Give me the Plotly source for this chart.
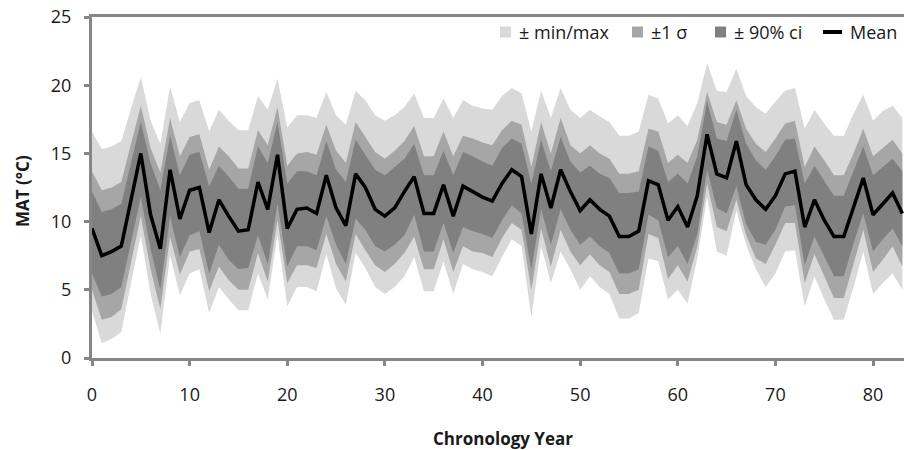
import plotly.graph_objects as go

years = list(range(84))

mean = [9.5, 7.5, 7.8, 8.2, 11.6, 15.0, 10.5, 8.0, 13.8, 10.2, 12.3,
        12.5, 9.2, 11.6, 10.4, 9.3, 9.4, 12.9, 10.9, 14.9, 9.5,
        10.9, 11.0, 10.6, 13.4, 11.0, 9.7, 13.5, 12.5, 10.9, 10.4,
        11.0, 12.2, 13.3, 10.6, 10.6, 12.7, 10.4, 12.6, 12.2, 11.8,
        11.5, 12.8, 13.8, 13.3, 9.1, 13.5, 11.0, 13.8, 12.2, 10.8,
        11.6, 10.9, 10.4, 8.9, 8.9, 9.3, 13.0, 12.7, 10.1, 11.1,
        9.6, 11.9, 16.4, 13.5, 13.2, 15.9, 12.7, 11.6, 10.9, 11.9,
        13.5, 13.7, 9.6, 11.6, 10.1, 8.9, 8.9, 11.1, 13.2, 10.5,
        11.3, 12.1, 10.6]

max_v = [16.6, 15.3, 15.5, 15.9, 18.3, 20.6, 17.4, 15.7, 19.9, 17.3, 18.7,
         18.9, 16.6, 18.2, 17.4, 16.7, 16.7, 19.2, 18.2, 20.5, 16.9,
         17.8, 17.8, 17.6, 19.5, 17.8, 17.1, 19.6, 18.9, 17.8, 17.4,
         17.8, 18.4, 19.4, 17.6, 17.6, 19.0, 17.6, 18.9, 18.5, 18.3,
         18.2, 19.2, 19.8, 19.4, 16.6, 19.6, 17.6, 19.8, 18.2, 17.6,
         18.2, 17.7, 17.3, 16.3, 16.3, 16.6, 19.3, 19.0, 17.2, 17.8,
         17.0, 18.7, 21.6, 19.6, 19.5, 21.2, 19.2, 18.4, 17.9, 18.8,
         19.6, 19.8, 16.8, 18.2, 17.2, 16.3, 16.3, 17.9, 19.3, 17.4,
         18.1, 18.5, 17.6]

sd_hi = [13.7, 12.3, 12.5, 12.9, 15.7, 18.5, 15.4, 13.6, 17.6, 14.8, 16.2,
         16.4, 13.8, 15.5, 14.8, 13.9, 13.9, 16.7, 15.6, 18.4, 14.1,
         15.0, 15.1, 14.9, 17.1, 15.2, 14.3, 17.3, 16.2, 15.1, 14.6,
         15.2, 15.9, 17.0, 14.8, 14.8, 16.6, 14.8, 16.3, 16.1, 15.8,
         15.6, 16.7, 17.4, 17.1, 14.0, 17.3, 15.0, 17.6, 15.6, 15.0,
         15.6, 15.0, 14.6, 13.5, 13.5, 13.7, 16.8, 16.6, 14.3, 14.9,
         14.3, 16.0, 19.5, 17.3, 17.1, 18.9, 16.8, 15.7, 15.1, 16.1,
         17.2, 17.4, 14.0, 15.5, 14.5, 13.4, 13.4, 15.0, 16.8, 14.8,
         15.4, 16.0, 15.0]

ci_hi = [12.2, 10.7, 10.9, 11.3, 14.3, 17.3, 14.3, 12.3, 16.3, 13.4, 14.9,
         15.1, 12.6, 14.1, 13.3, 12.4, 12.4, 15.5, 14.3, 17.3, 12.8,
         13.7, 13.7, 13.4, 15.9, 13.8, 12.9, 16.0, 14.9, 13.8, 13.4,
         14.0, 14.6, 15.7, 13.4, 13.4, 15.2, 13.4, 15.1, 14.8, 14.4,
         14.1, 15.4, 16.1, 15.7, 12.8, 16.0, 13.7, 16.2, 14.4, 13.6,
         14.1, 13.5, 13.2, 12.1, 12.1, 12.2, 15.5, 15.2, 12.9, 13.5,
         12.8, 14.8, 18.8, 16.1, 15.9, 18.2, 15.7, 14.5, 13.8, 14.8,
         16.0, 16.1, 12.8, 14.1, 13.0, 11.9, 11.9, 13.7, 15.5, 13.4,
         14.0, 14.6, 13.7]

ci_lo = [6.2, 4.5, 4.7, 5.2, 8.5, 11.8, 8.0, 5.0, 10.4, 7.4, 9.0,
         9.3, 6.2, 8.3, 7.2, 6.5, 6.6, 9.0, 6.9, 11.3, 6.7,
         8.2, 8.2, 7.9, 10.4, 8.3, 6.9, 10.2, 9.4, 8.2, 7.8,
         8.3, 9.0, 10.5, 7.8, 7.8, 9.9, 7.7, 9.6, 9.3, 9.1,
         8.8, 10.1, 11.2, 10.6, 6.5, 10.9, 8.3, 10.9, 9.4, 8.3,
         8.9, 8.2, 7.7, 6.2, 6.2, 6.5, 10.5, 10.1, 7.4, 8.2,
         6.9, 9.1, 13.8, 11.0, 10.6, 12.6, 9.8, 8.5, 8.3, 9.4,
         11.1, 11.2, 6.8, 8.9, 7.4, 6.0, 6.0, 8.4, 10.6, 7.8,
         8.7, 9.5, 8.2]

sd_lo = [5.0, 2.8, 3.0, 3.6, 7.0, 10.4, 6.5, 3.6, 8.9, 6.1, 7.8,
         8.0, 4.9, 6.7, 5.7, 5.0, 5.0, 7.7, 5.6, 10.1, 5.5,
         6.8, 6.8, 6.6, 9.1, 6.9, 5.6, 9.1, 7.9, 6.8, 6.3,
         6.9, 7.7, 8.9, 6.5, 6.5, 8.7, 6.3, 8.2, 7.8, 7.7,
         7.4, 8.8, 9.9, 9.4, 5.0, 9.5, 6.7, 9.4, 7.8, 6.8,
         7.6, 6.8, 6.3, 4.7, 4.7, 5.0, 9.1, 8.8, 5.8, 6.8,
         5.6, 8.2, 12.8, 9.6, 9.3, 11.6, 9.0, 7.3, 6.9, 8.3,
         9.9, 9.9, 5.5, 7.6, 6.0, 4.4, 4.4, 6.9, 9.4, 6.3,
         7.2, 8.2, 6.7]

min_v = [3.4, 1.1, 1.4, 1.9, 5.5, 9.0, 4.7, 1.8, 7.5, 4.6, 6.2,
         6.5, 3.3, 5.2, 4.3, 3.5, 3.5, 6.2, 4.3, 9.0, 3.8,
         5.2, 5.2, 4.9, 7.6, 5.1, 3.9, 7.7, 6.6, 5.2, 4.7,
         5.2, 6.0, 7.4, 4.9, 4.9, 7.1, 4.7, 6.9, 6.5, 6.3,
         6.0, 7.4, 8.7, 8.2, 3.0, 8.2, 5.5, 7.8, 6.5, 5.0,
         6.0, 5.2, 4.7, 2.9, 2.9, 3.3, 7.3, 7.1, 4.3, 5.0,
         4.0, 7.3, 11.8, 7.8, 7.5, 10.8, 8.3, 6.5, 5.2, 6.2,
         7.8, 7.9, 3.8, 6.0, 4.3, 2.8, 2.8, 5.2, 7.8, 4.7,
         5.5, 6.2, 5.0]

legend_labels = ["± min/max", "±1 σ", "± 90% ci", "Mean"]
x_ticks = [0, 10, 20, 30, 40, 50, 60, 70, 80]
y_ticks = [0, 5, 10, 15, 20, 25]

C_LIGHT = "#d9d9d9"
C_MED = "#a6a6a6"
C_DARK = "#808080"
AXIS = "#868686"
TXT = "#1a1a1a"
FONT = "Open Sans"

fig = go.Figure()

def band(lo, hi, color):
    fig.add_trace(go.Scatter(x=years, y=lo, mode="lines", line=dict(width=0, color=color),
                             hoverinfo="skip", showlegend=False))
    fig.add_trace(go.Scatter(x=years, y=hi, mode="lines", line=dict(width=0, color=color),
                             fill="tonexty", fillcolor=color, hoverinfo="skip", showlegend=False))

band(min_v, max_v, C_LIGHT)
band(sd_lo, sd_hi, C_MED)
band(ci_lo, ci_hi, C_DARK)
fig.add_trace(go.Scatter(x=years, y=mean, mode="lines", line=dict(color="black", width=3.5),
                         showlegend=False))

W, H = 904, 450
L, R, T, B = 92, 0, 17, 92
PW, PH = W - L - R, H - T - B

def px2paper(px, py):
    return (px - L) / PW, (H - B - py) / PH

# manual legend
sq = [(500, C_LIGHT), (632, C_MED), (715, C_DARK)]
text_x = [517, 649, 732, 848]
ly = 32
for (sx, col) in sq:
    x0, y0 = px2paper(sx, ly + 5.5)
    x1, y1 = px2paper(sx + 11, ly - 5.5)
    fig.add_shape(type="rect", xref="paper", yref="paper", x0=x0, y0=y0, x1=x1, y1=y1,
                  fillcolor=col, line=dict(width=0))
lx0, lyy = px2paper(823, ly)
lx1, _ = px2paper(842, ly)
fig.add_shape(type="line", xref="paper", yref="paper", x0=lx0, x1=lx1, y0=lyy, y1=lyy,
              line=dict(color="black", width=4))
for tx, lab in zip(text_x, legend_labels):
    ax, ay = px2paper(tx, ly)
    fig.add_annotation(x=ax, y=ay, xref="paper", yref="paper", text=lab, showarrow=False,
                       xanchor="left", yanchor="middle",
                       font=dict(family=FONT, size=18, color=TXT))

# axis titles
tx, ty = px2paper(503, 438)
fig.add_annotation(x=tx, y=ty, xref="paper", yref="paper", text="<b>Chronology Year</b>",
                   showarrow=False, xanchor="center", yanchor="middle",
                   font=dict(family=FONT, size=17, color=TXT))
tx, ty = px2paper(22, 191)
fig.add_annotation(x=tx, y=ty, xref="paper", yref="paper", text="<b>MAT (°C)</b>",
                   showarrow=False, xanchor="center", yanchor="middle", textangle=-90,
                   font=dict(family=FONT, size=17, color=TXT))

fig.update_layout(
    width=W, height=H,
    margin=dict(l=L, r=R, t=T, b=B, pad=0),
    plot_bgcolor="white", paper_bgcolor="white",
    showlegend=False,
    font=dict(family=FONT, size=18, color=TXT),
)
fig.update_xaxes(range=[0, 83.17], tickvals=x_ticks, showgrid=False, zeroline=False,
                 showline=True, linecolor=AXIS, linewidth=3, mirror=True,
                 ticks="outside", ticklen=5, tickwidth=3, tickcolor=AXIS,
                 ticklabelstandoff=13, tickfont=dict(family=FONT, size=18, color=TXT))
fig.update_yaxes(range=[0, 25], tickvals=y_ticks, showgrid=False, zeroline=False,
                 showline=True, linecolor=AXIS, linewidth=3, mirror=False,
                 ticks="outside", ticklen=5, tickwidth=3, tickcolor=AXIS,
                 ticklabelstandoff=9, tickfont=dict(family=FONT, size=18, color=TXT))

fig.write_html("out.html", config={"displayModeBar": False},
               post_script="document.body.style.margin='0';document.body.style.padding='0';")
